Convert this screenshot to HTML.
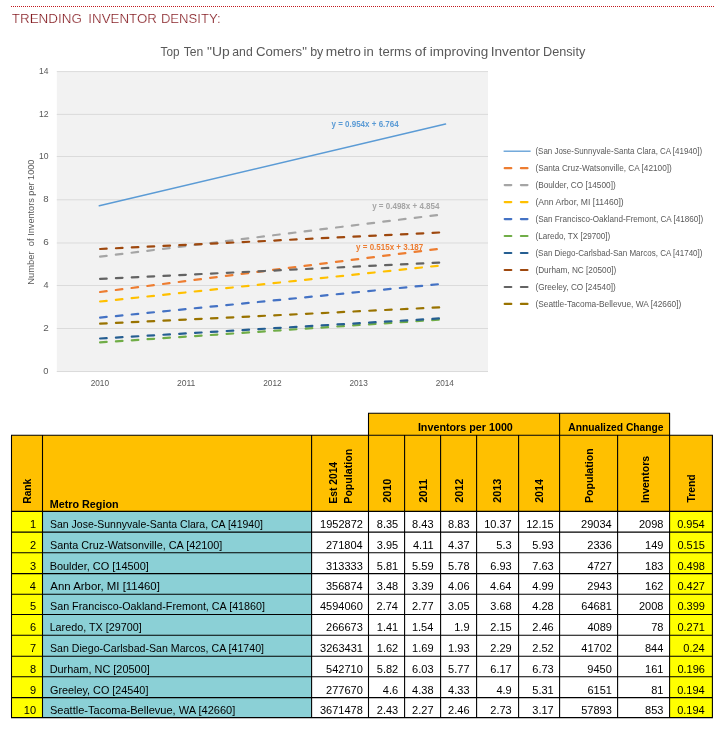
<!DOCTYPE html>
<html lang="en"><head><meta charset="utf-8"><title>Trending Inventor Density</title>
<style>html,body{margin:0;padding:0;background:#fff}body{width:724px;height:730px;overflow:hidden}svg{display:block}text{font-family:"Liberation Sans",sans-serif;white-space:pre}</style>
</head><body>
<svg width="724" height="730" viewBox="0 0 724 730">
<rect width="724" height="730" fill="#fff"/>
<line x1="11" y1="6.5" x2="714" y2="6.5" stroke="#c01a1e" stroke-width="1" stroke-dasharray="1 1"/>
<text x="11.72" y="22.8" font-size="11.9" fill="#80141a" stroke="#fff" stroke-width="0.22" textLength="70.18" lengthAdjust="spacingAndGlyphs">TRENDING</text>
<text x="88.34" y="22.8" font-size="11.9" fill="#80141a" stroke="#fff" stroke-width="0.22" textLength="68.58" lengthAdjust="spacingAndGlyphs">INVENTOR</text>
<text x="160.90" y="22.8" font-size="11.9" fill="#80141a" stroke="#fff" stroke-width="0.22" textLength="59.71" lengthAdjust="spacingAndGlyphs">DENSITY:</text>
<rect x="56.8" y="71.3" width="431.2" height="300.8" fill="#f2f2f2"/>
<line x1="56.8" y1="371.50" x2="488" y2="371.50" stroke="#dbdbdb" stroke-width="1"/>
<text x="43.31" y="373.6" font-size="9.1" fill="#595959" textLength="5.21" lengthAdjust="spacingAndGlyphs">0</text>
<line x1="56.8" y1="328.50" x2="488" y2="328.50" stroke="#dbdbdb" stroke-width="1"/>
<text x="43.15" y="330.6" font-size="9.1" fill="#595959" textLength="5.52" lengthAdjust="spacingAndGlyphs">2</text>
<line x1="56.8" y1="285.50" x2="488" y2="285.50" stroke="#dbdbdb" stroke-width="1"/>
<text x="43.45" y="287.6" font-size="9.1" fill="#595959" textLength="5.06" lengthAdjust="spacingAndGlyphs">4</text>
<line x1="56.8" y1="243.00" x2="488" y2="243.00" stroke="#dbdbdb" stroke-width="1"/>
<text x="43.15" y="245.1" font-size="9.1" fill="#595959" textLength="5.52" lengthAdjust="spacingAndGlyphs">6</text>
<line x1="56.8" y1="199.80" x2="488" y2="199.80" stroke="#dbdbdb" stroke-width="1"/>
<text x="43.30" y="201.9" font-size="9.1" fill="#595959" textLength="5.36" lengthAdjust="spacingAndGlyphs">8</text>
<line x1="56.8" y1="156.50" x2="488" y2="156.50" stroke="#dbdbdb" stroke-width="1"/>
<text x="38.99" y="158.6" font-size="9.1" fill="#595959" textLength="9.56" lengthAdjust="spacingAndGlyphs">10</text>
<line x1="56.8" y1="114.40" x2="488" y2="114.40" stroke="#dbdbdb" stroke-width="1"/>
<text x="38.98" y="116.5" font-size="9.1" fill="#595959" textLength="9.70" lengthAdjust="spacingAndGlyphs">12</text>
<line x1="56.8" y1="71.60" x2="488" y2="71.60" stroke="#dbdbdb" stroke-width="1"/>
<text x="39.00" y="73.7" font-size="9.1" fill="#595959" textLength="9.43" lengthAdjust="spacingAndGlyphs">14</text>
<text x="160.58" y="55.5" font-size="13.3" fill="#595959" textLength="18.92" lengthAdjust="spacingAndGlyphs">Top</text>
<text x="183.77" y="55.5" font-size="13.3" fill="#595959" textLength="19.58" lengthAdjust="spacingAndGlyphs">Ten</text>
<text x="207.05" y="55.5" font-size="13.3" fill="#595959" textLength="22.68" lengthAdjust="spacingAndGlyphs">"Up</text>
<text x="232.32" y="55.5" font-size="13.3" fill="#595959" textLength="20.42" lengthAdjust="spacingAndGlyphs">and</text>
<text x="255.98" y="55.5" font-size="13.3" fill="#595959" textLength="50.94" lengthAdjust="spacingAndGlyphs">Comers"</text>
<text x="310.18" y="55.5" font-size="13.3" fill="#595959" textLength="13.16" lengthAdjust="spacingAndGlyphs">by</text>
<text x="325.70" y="55.5" font-size="13.3" fill="#595959" textLength="35.14" lengthAdjust="spacingAndGlyphs">metro</text>
<text x="363.54" y="55.5" font-size="13.3" fill="#595959" textLength="10.20" lengthAdjust="spacingAndGlyphs">in</text>
<text x="378.75" y="55.5" font-size="13.3" fill="#595959" textLength="32.74" lengthAdjust="spacingAndGlyphs">terms</text>
<text x="414.86" y="55.5" font-size="13.3" fill="#595959" textLength="11.41" lengthAdjust="spacingAndGlyphs">of</text>
<text x="429.81" y="55.5" font-size="13.3" fill="#595959" textLength="58.50" lengthAdjust="spacingAndGlyphs">improving</text>
<text x="490.71" y="55.5" font-size="13.3" fill="#595959" textLength="49.47" lengthAdjust="spacingAndGlyphs">Inventor</text>
<text x="543.03" y="55.5" font-size="13.3" fill="#595959" textLength="42.26" lengthAdjust="spacingAndGlyphs">Density</text>
<text x="90.67" y="385.5" font-size="9.1" fill="#595959" textLength="18.39" lengthAdjust="spacingAndGlyphs">2010</text>
<text x="176.89" y="385.5" font-size="9.1" fill="#595959" textLength="18.49" lengthAdjust="spacingAndGlyphs">2011</text>
<text x="263.14" y="385.5" font-size="9.1" fill="#595959" textLength="18.51" lengthAdjust="spacingAndGlyphs">2012</text>
<text x="349.39" y="385.5" font-size="9.1" fill="#595959" textLength="18.39" lengthAdjust="spacingAndGlyphs">2013</text>
<text x="435.63" y="385.5" font-size="9.1" fill="#595959" textLength="18.27" lengthAdjust="spacingAndGlyphs">2014</text>
<text transform="translate(34.0 284.68) rotate(-90)" font-size="9.0" fill="#595959" textLength="46.30" lengthAdjust="spacingAndGlyphs">Number  of</text>
<text transform="translate(34.0 235.79) rotate(-90)" font-size="9.0" fill="#595959" textLength="76.22" lengthAdjust="spacingAndGlyphs">Inventors per 1000</text>
<line x1="99.3" y1="205.8" x2="445.5" y2="124.1" stroke="#5b9bd5" stroke-width="1.5" stroke-linecap="round"/>
<line x1="503.6" y1="151.2" x2="530.6" y2="151.2" stroke="#5b9bd5" stroke-width="1.3"/>
<text x="535.44" y="154.0" font-size="8.6" fill="#595959" textLength="166.61" lengthAdjust="spacingAndGlyphs">(San Jose-Sunnyvale-Santa Clara, CA [41940])</text>
<line x1="100.1" y1="292.0" x2="443.4" y2="248.2" stroke="#ed7d31" stroke-width="2.2" stroke-linecap="round" stroke-dasharray="6.6 9.25"/>
<line x1="504.7" y1="168.2" x2="528" y2="168.2" stroke="#ed7d31" stroke-width="2.2" stroke-linecap="round" stroke-dasharray="6.6 9.6"/>
<text x="535.42" y="171.0" font-size="8.6" fill="#595959" textLength="136.34" lengthAdjust="spacingAndGlyphs">(Santa Cruz-Watsonville, CA [42100])</text>
<line x1="100.1" y1="256.6" x2="443.4" y2="214.3" stroke="#a5a5a5" stroke-width="2.2" stroke-linecap="round" stroke-dasharray="6.6 9.25"/>
<line x1="504.7" y1="185.1" x2="528" y2="185.1" stroke="#a5a5a5" stroke-width="2.2" stroke-linecap="round" stroke-dasharray="6.6 9.6"/>
<text x="535.42" y="187.9" font-size="8.6" fill="#595959" textLength="80.29" lengthAdjust="spacingAndGlyphs">(Boulder, CO [14500])</text>
<line x1="100.1" y1="301.5" x2="443.4" y2="265.2" stroke="#ffc000" stroke-width="2.2" stroke-linecap="round" stroke-dasharray="6.6 9.25"/>
<line x1="504.7" y1="202.1" x2="528" y2="202.1" stroke="#ffc000" stroke-width="2.2" stroke-linecap="round" stroke-dasharray="6.6 9.6"/>
<text x="535.40" y="204.9" font-size="8.6" fill="#595959" textLength="88.32" lengthAdjust="spacingAndGlyphs">(Ann Arbor, MI [11460])</text>
<line x1="100.1" y1="317.6" x2="443.4" y2="283.7" stroke="#4472c4" stroke-width="2.2" stroke-linecap="round" stroke-dasharray="6.6 9.25"/>
<line x1="504.7" y1="219.1" x2="528" y2="219.1" stroke="#4472c4" stroke-width="2.2" stroke-linecap="round" stroke-dasharray="6.6 9.6"/>
<text x="535.43" y="221.9" font-size="8.6" fill="#595959" textLength="167.89" lengthAdjust="spacingAndGlyphs">(San Francisco-Oakland-Fremont, CA [41860])</text>
<line x1="100.1" y1="342.4" x2="443.4" y2="319.4" stroke="#70ad47" stroke-width="2.2" stroke-linecap="round" stroke-dasharray="6.6 9.25"/>
<line x1="504.7" y1="236.0" x2="528" y2="236.0" stroke="#70ad47" stroke-width="2.2" stroke-linecap="round" stroke-dasharray="6.6 9.6"/>
<text x="535.43" y="238.8" font-size="8.6" fill="#595959" textLength="74.92" lengthAdjust="spacingAndGlyphs">(Laredo, TX [29700])</text>
<line x1="100.1" y1="338.5" x2="443.4" y2="318.2" stroke="#255e91" stroke-width="2.2" stroke-linecap="round" stroke-dasharray="6.6 9.25"/>
<line x1="504.7" y1="253.0" x2="528" y2="253.0" stroke="#255e91" stroke-width="2.2" stroke-linecap="round" stroke-dasharray="6.6 9.6"/>
<text x="535.43" y="255.8" font-size="8.6" fill="#595959" textLength="167.03" lengthAdjust="spacingAndGlyphs">(San Diego-Carlsbad-San Marcos, CA [41740])</text>
<line x1="100.1" y1="249.0" x2="443.4" y2="232.3" stroke="#9e480e" stroke-width="2.2" stroke-linecap="round" stroke-dasharray="6.6 9.25"/>
<line x1="504.7" y1="270.0" x2="528" y2="270.0" stroke="#9e480e" stroke-width="2.2" stroke-linecap="round" stroke-dasharray="6.6 9.6"/>
<text x="535.42" y="272.8" font-size="8.6" fill="#595959" textLength="80.85" lengthAdjust="spacingAndGlyphs">(Durham, NC [20500])</text>
<line x1="100.1" y1="278.9" x2="443.4" y2="262.4" stroke="#636363" stroke-width="2.2" stroke-linecap="round" stroke-dasharray="6.6 9.25"/>
<line x1="504.7" y1="287.0" x2="528" y2="287.0" stroke="#636363" stroke-width="2.2" stroke-linecap="round" stroke-dasharray="6.6 9.6"/>
<text x="535.42" y="289.8" font-size="8.6" fill="#595959" textLength="80.34" lengthAdjust="spacingAndGlyphs">(Greeley, CO [24540])</text>
<line x1="100.1" y1="323.7" x2="443.4" y2="307.2" stroke="#997300" stroke-width="2.2" stroke-linecap="round" stroke-dasharray="6.6 9.25"/>
<line x1="504.7" y1="303.9" x2="528" y2="303.9" stroke="#997300" stroke-width="2.2" stroke-linecap="round" stroke-dasharray="6.6 9.6"/>
<text x="535.41" y="306.7" font-size="8.6" fill="#595959" textLength="145.97" lengthAdjust="spacingAndGlyphs">(Seattle-Tacoma-Bellevue, WA [42660])</text>
<text x="331.48" y="127" font-size="8.5" font-weight="bold" fill="#5b9bd5" textLength="67.21" lengthAdjust="spacingAndGlyphs">y = 0.954x + 6.764</text>
<text x="372.18" y="208.8" font-size="8.5" font-weight="bold" fill="#a5a5a5" textLength="67.31" lengthAdjust="spacingAndGlyphs">y = 0.498x + 4.854</text>
<text x="356.08" y="250" font-size="8.5" font-weight="bold" fill="#ed7d31" textLength="67.17" lengthAdjust="spacingAndGlyphs">y = 0.515x + 3.187</text>
<rect x="11.5" y="435.2" width="700.9" height="76.19999999999999" fill="#ffc000"/>
<rect x="368.5" y="413.3" width="301.1" height="21.899999999999977" fill="#ffc000"/>
<rect x="11.5" y="511.4" width="31.0" height="206.20000000000005" fill="#ffff00"/>
<rect x="42.5" y="511.4" width="269.1" height="206.20000000000005" fill="#8bd0d6"/>
<rect x="669.6" y="511.4" width="42.799999999999955" height="206.20000000000005" fill="#ffff00"/>
<path d="M11.0 511.40H712.9 M11.0 532.10H712.9 M11.0 552.70H712.9 M11.0 573.60H712.9 M11.0 594.30H712.9 M11.0 614.50H712.9 M11.0 635.30H712.9 M11.0 656.20H712.9 M11.0 676.70H712.9 M11.0 697.60H712.9 M11.0 717.60H712.9 M11.0 435.2H712.9 M368.0 413.3H670.1 M11.5 435.2V717.60 M42.5 435.2V717.60 M311.6 435.2V717.60 M368.5 413.3V717.60 M404.6 435.2V717.60 M440.6 435.2V717.60 M476.6 435.2V717.60 M518.6 435.2V717.60 M559.6 413.3V717.60 M617.6 435.2V717.60 M669.6 413.3V717.60 M712.4 435.2V717.60" fill="none" stroke="#000" stroke-width="1.08"/>
<text transform="translate(31.3 503.78) rotate(-90)" font-size="11.3" font-weight="bold" fill="#000" textLength="25.09" lengthAdjust="spacingAndGlyphs">Rank</text>
<text x="49.76" y="508.1" font-size="11" font-weight="bold" fill="#000" textLength="68.87" lengthAdjust="spacingAndGlyphs">Metro Region</text>
<text transform="translate(337.4 503.68) rotate(-90)" font-size="11.3" font-weight="bold" fill="#000" textLength="41.78" lengthAdjust="spacingAndGlyphs">Est 2014</text>
<text transform="translate(351.9 503.71) rotate(-90)" font-size="11.3" font-weight="bold" fill="#000" textLength="54.91" lengthAdjust="spacingAndGlyphs">Population</text>
<text transform="translate(390.6 502.86) rotate(-90)" font-size="11.3" font-weight="bold" fill="#000" textLength="24.15" lengthAdjust="spacingAndGlyphs">2010</text>
<text transform="translate(426.6 502.87) rotate(-90)" font-size="11.3" font-weight="bold" fill="#000" textLength="24.05" lengthAdjust="spacingAndGlyphs">2011</text>
<text transform="translate(462.6 502.86) rotate(-90)" font-size="11.3" font-weight="bold" fill="#000" textLength="24.15" lengthAdjust="spacingAndGlyphs">2012</text>
<text transform="translate(501.0 502.86) rotate(-90)" font-size="11.3" font-weight="bold" fill="#000" textLength="24.03" lengthAdjust="spacingAndGlyphs">2013</text>
<text transform="translate(543.1 502.85) rotate(-90)" font-size="11.3" font-weight="bold" fill="#000" textLength="23.66" lengthAdjust="spacingAndGlyphs">2014</text>
<text transform="translate(593.0 503.10) rotate(-90)" font-size="11.3" font-weight="bold" fill="#000" textLength="54.80" lengthAdjust="spacingAndGlyphs">Population</text>
<text transform="translate(648.6 503.10) rotate(-90)" font-size="11.3" font-weight="bold" fill="#000" textLength="47.14" lengthAdjust="spacingAndGlyphs">Inventors</text>
<text transform="translate(695.4 502.51) rotate(-90)" font-size="11.3" font-weight="bold" fill="#000" textLength="28.22" lengthAdjust="spacingAndGlyphs">Trend</text>
<text x="417.89" y="431.1" font-size="11.3" font-weight="bold" fill="#000" textLength="94.97" lengthAdjust="spacingAndGlyphs">Inventors per 1000</text>
<text x="568.27" y="431.1" font-size="11.3" font-weight="bold" fill="#000" textLength="95.33" lengthAdjust="spacingAndGlyphs">Annualized Change</text>
<text x="29.98" y="528.0" font-size="11" fill="#000">1</text>
<text x="50.02" y="528.0" font-size="11" fill="#000" textLength="212.96" lengthAdjust="spacingAndGlyphs">San Jose-Sunnyvale-Santa Clara, CA [41940]</text>
<text x="320.05" y="528.0" font-size="11" fill="#000">1952872</text>
<text x="376.82" y="528.0" font-size="11" fill="#000">8.35</text>
<text x="412.12" y="528.0" font-size="11" fill="#000">8.43</text>
<text x="448.12" y="528.0" font-size="11" fill="#000">8.83</text>
<text x="484.20" y="528.0" font-size="11" fill="#000">10.37</text>
<text x="526.20" y="528.0" font-size="11" fill="#000">12.15</text>
<text x="581.05" y="528.0" font-size="11" fill="#000">29034</text>
<text x="639.00" y="528.0" font-size="11" fill="#000">2098</text>
<text x="677.15" y="528.0" font-size="11" fill="#000">0.954</text>
<text x="29.98" y="548.6" font-size="11" fill="#000">2</text>
<text x="50.01" y="548.6" font-size="11" fill="#000" textLength="172.30" lengthAdjust="spacingAndGlyphs">Santa Cruz-Watsonville, CA [42100]</text>
<text x="325.93" y="548.6" font-size="11" fill="#000">271804</text>
<text x="376.82" y="548.6" font-size="11" fill="#000">3.95</text>
<text x="413.00" y="548.6" font-size="11" fill="#000">4.11</text>
<text x="448.12" y="548.6" font-size="11" fill="#000">4.37</text>
<text x="496.32" y="548.6" font-size="11" fill="#000">5.3</text>
<text x="532.33" y="548.6" font-size="11" fill="#000">5.93</text>
<text x="587.30" y="548.6" font-size="11" fill="#000">2336</text>
<text x="645.12" y="548.6" font-size="11" fill="#000">149</text>
<text x="677.40" y="548.6" font-size="11" fill="#000">0.515</text>
<text x="29.98" y="569.5" font-size="11" fill="#000">3</text>
<text x="49.63" y="569.5" font-size="11" fill="#000" textLength="99.17" lengthAdjust="spacingAndGlyphs">Boulder, CO [14500]</text>
<text x="326.05" y="569.5" font-size="11" fill="#000">313333</text>
<text x="376.82" y="569.5" font-size="11" fill="#000">5.81</text>
<text x="412.12" y="569.5" font-size="11" fill="#000">5.59</text>
<text x="448.12" y="569.5" font-size="11" fill="#000">5.78</text>
<text x="490.32" y="569.5" font-size="11" fill="#000">6.93</text>
<text x="532.33" y="569.5" font-size="11" fill="#000">7.63</text>
<text x="587.42" y="569.5" font-size="11" fill="#000">4727</text>
<text x="645.12" y="569.5" font-size="11" fill="#000">183</text>
<text x="677.40" y="569.5" font-size="11" fill="#000">0.498</text>
<text x="29.85" y="590.2" font-size="11" fill="#000">4</text>
<text x="50.37" y="590.2" font-size="11" fill="#000" textLength="109.50" lengthAdjust="spacingAndGlyphs">Ann Arbor, MI [11460]</text>
<text x="325.93" y="590.2" font-size="11" fill="#000">356874</text>
<text x="376.82" y="590.2" font-size="11" fill="#000">3.48</text>
<text x="412.12" y="590.2" font-size="11" fill="#000">3.39</text>
<text x="448.12" y="590.2" font-size="11" fill="#000">4.06</text>
<text x="490.07" y="590.2" font-size="11" fill="#000">4.64</text>
<text x="532.33" y="590.2" font-size="11" fill="#000">4.99</text>
<text x="587.30" y="590.2" font-size="11" fill="#000">2943</text>
<text x="645.12" y="590.2" font-size="11" fill="#000">162</text>
<text x="677.40" y="590.2" font-size="11" fill="#000">0.427</text>
<text x="29.98" y="610.4" font-size="11" fill="#000">5</text>
<text x="50.01" y="610.4" font-size="11" fill="#000" textLength="215.02" lengthAdjust="spacingAndGlyphs">San Francisco-Oakland-Fremont, CA [41860]</text>
<text x="319.93" y="610.4" font-size="11" fill="#000">4594060</text>
<text x="376.57" y="610.4" font-size="11" fill="#000">2.74</text>
<text x="412.12" y="610.4" font-size="11" fill="#000">2.77</text>
<text x="448.12" y="610.4" font-size="11" fill="#000">3.05</text>
<text x="490.32" y="610.4" font-size="11" fill="#000">3.68</text>
<text x="532.33" y="610.4" font-size="11" fill="#000">4.28</text>
<text x="581.30" y="610.4" font-size="11" fill="#000">64681</text>
<text x="639.00" y="610.4" font-size="11" fill="#000">2008</text>
<text x="677.40" y="610.4" font-size="11" fill="#000">0.399</text>
<text x="29.98" y="631.2" font-size="11" fill="#000">6</text>
<text x="49.64" y="631.2" font-size="11" fill="#000" textLength="92.07" lengthAdjust="spacingAndGlyphs">Laredo, TX [29700]</text>
<text x="326.05" y="631.2" font-size="11" fill="#000">266673</text>
<text x="376.82" y="631.2" font-size="11" fill="#000">1.41</text>
<text x="411.88" y="631.2" font-size="11" fill="#000">1.54</text>
<text x="454.25" y="631.2" font-size="11" fill="#000">1.9</text>
<text x="490.32" y="631.2" font-size="11" fill="#000">2.15</text>
<text x="532.33" y="631.2" font-size="11" fill="#000">2.46</text>
<text x="587.42" y="631.2" font-size="11" fill="#000">4089</text>
<text x="651.25" y="631.2" font-size="11" fill="#000">78</text>
<text x="677.40" y="631.2" font-size="11" fill="#000">0.271</text>
<text x="29.98" y="652.1" font-size="11" fill="#000">7</text>
<text x="50.02" y="652.1" font-size="11" fill="#000" textLength="213.98" lengthAdjust="spacingAndGlyphs">San Diego-Carlsbad-San Marcos, CA [41740]</text>
<text x="320.05" y="652.1" font-size="11" fill="#000">3263431</text>
<text x="376.82" y="652.1" font-size="11" fill="#000">1.62</text>
<text x="412.12" y="652.1" font-size="11" fill="#000">1.69</text>
<text x="448.12" y="652.1" font-size="11" fill="#000">1.93</text>
<text x="490.32" y="652.1" font-size="11" fill="#000">2.29</text>
<text x="532.33" y="652.1" font-size="11" fill="#000">2.52</text>
<text x="581.30" y="652.1" font-size="11" fill="#000">41702</text>
<text x="645.00" y="652.1" font-size="11" fill="#000">844</text>
<text x="683.27" y="652.1" font-size="11" fill="#000">0.24</text>
<text x="29.98" y="672.6" font-size="11" fill="#000">8</text>
<text x="49.63" y="672.6" font-size="11" fill="#000" textLength="100.12" lengthAdjust="spacingAndGlyphs">Durham, NC [20500]</text>
<text x="326.05" y="672.6" font-size="11" fill="#000">542710</text>
<text x="376.82" y="672.6" font-size="11" fill="#000">5.82</text>
<text x="412.12" y="672.6" font-size="11" fill="#000">6.03</text>
<text x="448.12" y="672.6" font-size="11" fill="#000">5.77</text>
<text x="490.32" y="672.6" font-size="11" fill="#000">6.17</text>
<text x="532.33" y="672.6" font-size="11" fill="#000">6.73</text>
<text x="587.30" y="672.6" font-size="11" fill="#000">9450</text>
<text x="645.12" y="672.6" font-size="11" fill="#000">161</text>
<text x="677.40" y="672.6" font-size="11" fill="#000">0.196</text>
<text x="29.98" y="693.5" font-size="11" fill="#000">9</text>
<text x="50.01" y="693.5" font-size="11" fill="#000" textLength="98.40" lengthAdjust="spacingAndGlyphs">Greeley, CO [24540]</text>
<text x="326.05" y="693.5" font-size="11" fill="#000">277670</text>
<text x="382.82" y="693.5" font-size="11" fill="#000">4.6</text>
<text x="412.12" y="693.5" font-size="11" fill="#000">4.38</text>
<text x="448.12" y="693.5" font-size="11" fill="#000">4.33</text>
<text x="496.45" y="693.5" font-size="11" fill="#000">4.9</text>
<text x="532.33" y="693.5" font-size="11" fill="#000">5.31</text>
<text x="587.42" y="693.5" font-size="11" fill="#000">6151</text>
<text x="651.25" y="693.5" font-size="11" fill="#000">81</text>
<text x="677.15" y="693.5" font-size="11" fill="#000">0.194</text>
<text x="23.85" y="713.5" font-size="11" fill="#000">10</text>
<text x="50.00" y="713.5" font-size="11" fill="#000" textLength="185.23" lengthAdjust="spacingAndGlyphs">Seattle-Tacoma-Bellevue, WA [42660]</text>
<text x="319.93" y="713.5" font-size="11" fill="#000">3671478</text>
<text x="376.82" y="713.5" font-size="11" fill="#000">2.43</text>
<text x="412.12" y="713.5" font-size="11" fill="#000">2.27</text>
<text x="448.12" y="713.5" font-size="11" fill="#000">2.46</text>
<text x="490.32" y="713.5" font-size="11" fill="#000">2.73</text>
<text x="532.33" y="713.5" font-size="11" fill="#000">3.17</text>
<text x="581.17" y="713.5" font-size="11" fill="#000">57893</text>
<text x="645.12" y="713.5" font-size="11" fill="#000">853</text>
<text x="677.15" y="713.5" font-size="11" fill="#000">0.194</text>
</svg></body></html>
